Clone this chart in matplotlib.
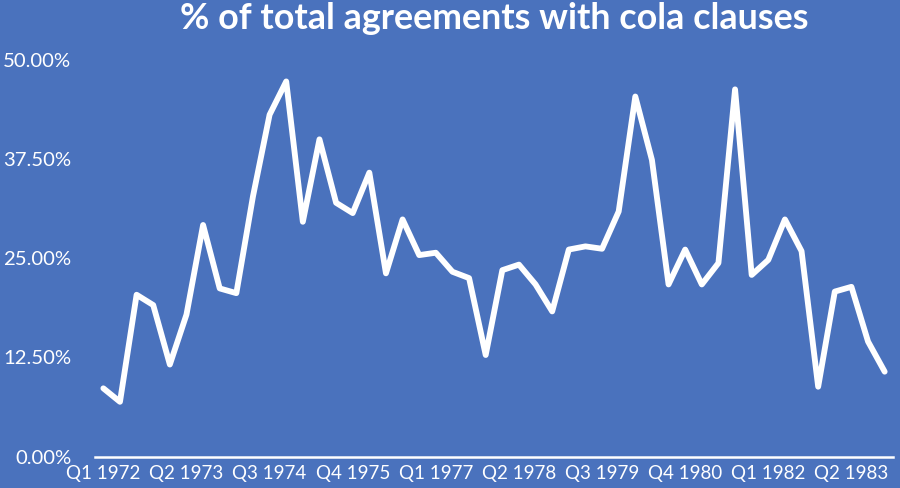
import matplotlib
matplotlib.use("Agg")
import matplotlib.pyplot as plt
from matplotlib.ticker import FuncFormatter

years = list(range(1972, 1984))
quarters = [f"Q{q} {y}" for y in years for q in range(1, 5)]

cola_pct = [8.6, 6.9, 20.4, 19.1, 11.6, 17.9, 29.2, 21.2, 20.6, 32.8,
            43.1, 47.3, 29.6, 40.0, 32.0, 30.7, 35.8, 23.1, 29.9, 25.4,
            25.7, 23.3, 22.5, 12.8, 23.5, 24.2, 21.7, 18.3, 26.1, 26.5,
            26.2, 30.9, 45.4, 37.4, 21.7, 26.1, 21.7, 24.4, 46.3, 22.9,
            24.8, 29.9, 25.9, 8.8, 20.8, 21.4, 14.5, 10.7]

yticks = [0, 12.5, 25, 37.5, 50]
label_step = 5
title = "% of total agreements with cola clauses"

bg = "#4A72BD"
plt.rcParams['font.family'] = ['Lato', 'DejaVu Sans']

fig = plt.figure(figsize=(9, 4.88), dpi=100, facecolor=bg)
ax = fig.add_axes([0.1056, 0.0645, 0.8866, 0.8125], facecolor=bg)

x = list(range(len(quarters)))
ax.plot(x, cola_pct, color="white", linewidth=4.2,
        solid_joinstyle="round", solid_capstyle="round")

ax.set_xlim(-0.5, len(quarters) - 0.5)
ax.set_ylim(0, 50)
ax.set_yticks(yticks)
ax.yaxis.set_major_formatter(FuncFormatter(lambda v, p: f"{v:.2f}%"))
ax.set_xticks(x[::label_step])
ax.set_xticklabels(quarters[::label_step])

for s in ["top", "right", "left"]:
    ax.spines[s].set_visible(False)
ax.spines["bottom"].set_color("white")
ax.spines["bottom"].set_linewidth(1.8)

ax.tick_params(axis="both", length=0, colors="white")
ax.tick_params(axis="x", pad=6, labelsize=13.5)
ax.tick_params(axis="y", pad=17, labelsize=14.6)

fig.text(0.549, 0.962, title, ha="center", va="center", color="white",
         fontsize=25.8, fontweight="bold")

fig.savefig("out.png", dpi=100, facecolor=bg)
